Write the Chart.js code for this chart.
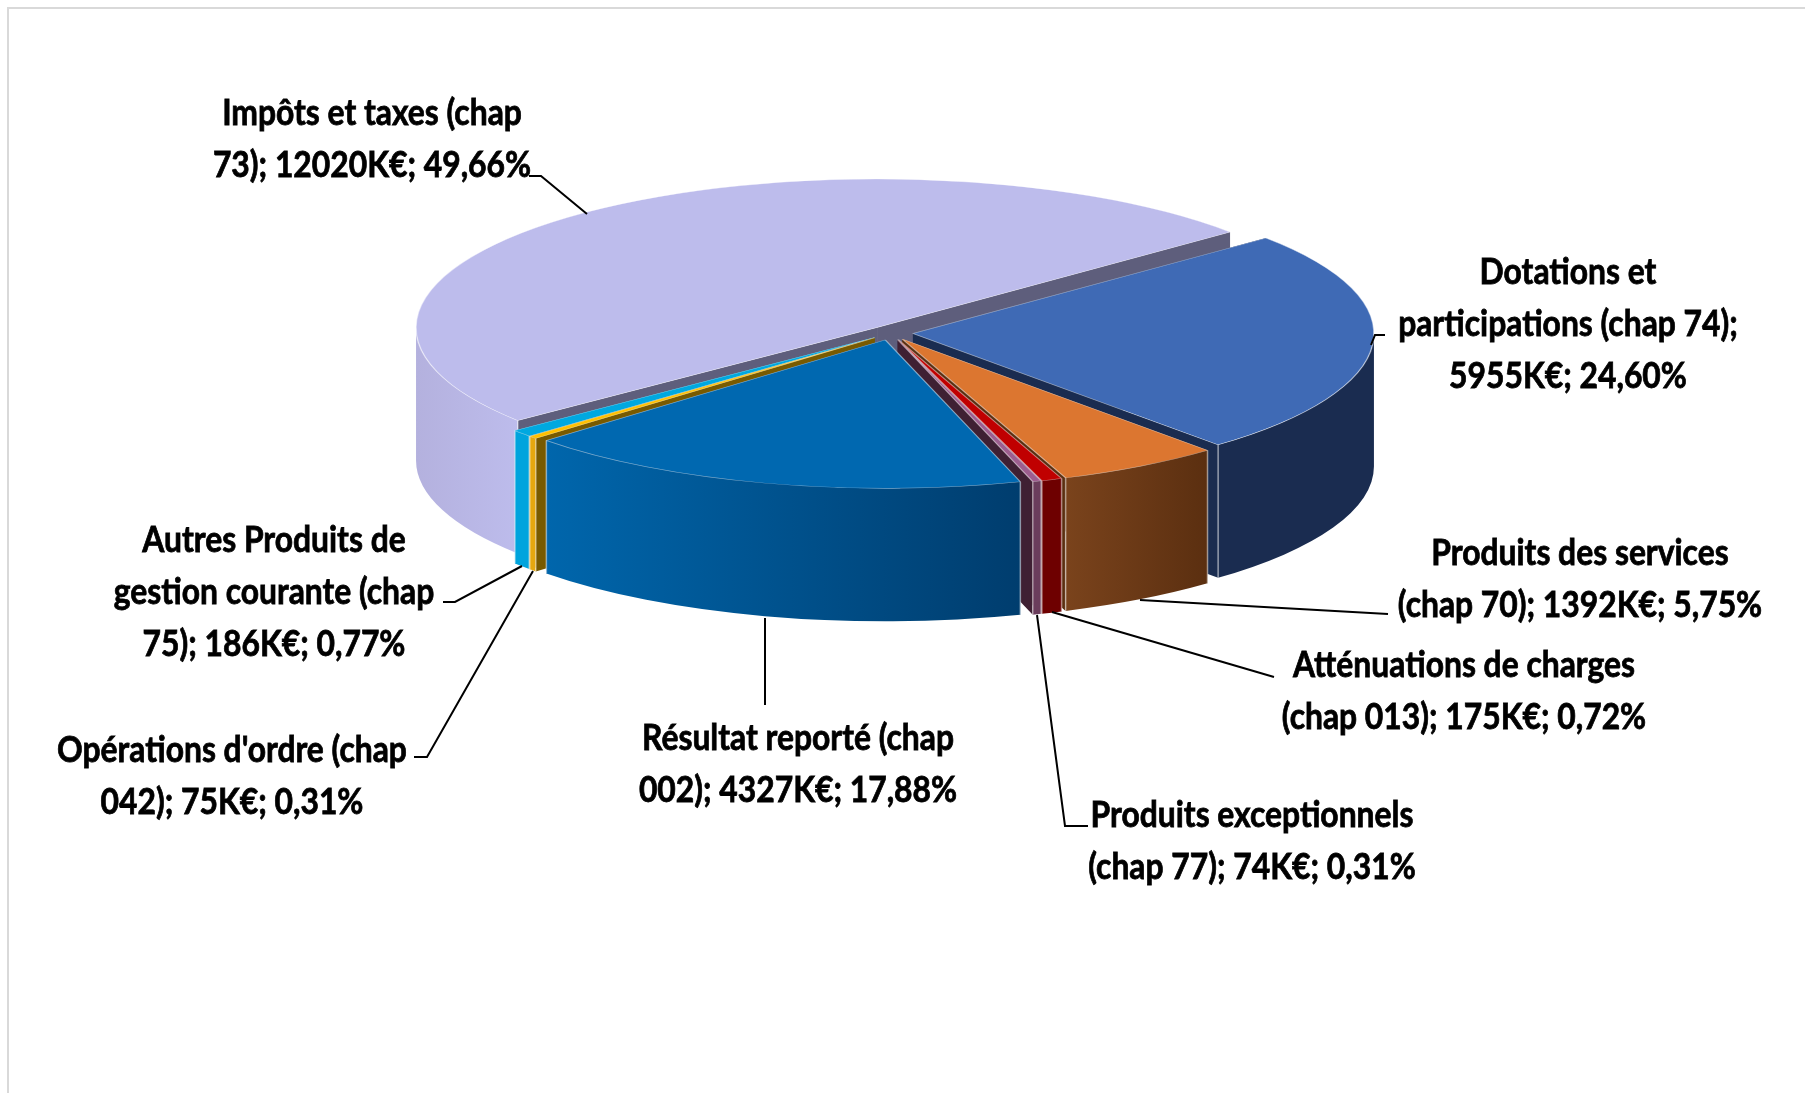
<!DOCTYPE html>
<html lang="fr">
<head>
<meta charset="utf-8">
<title>Recettes</title>
<script src="https://cdn.jsdelivr.net/npm/chart.js@4/dist/chart.umd.js"></script>
<style>
  html, body { margin: 0; background: #fff; }
  canvas { display: block; }
</style>
</head>
<body>
<canvas id="pieChart" width="1805" height="1093"></canvas>
<script>
// Données (K€), dans l'ordre des aiguilles d'une montre
const categories = ['Impôts et taxes', 'Dotations et participations', 'Produits des services',
    'Atténuations de charges', 'Produits exceptionnels', 'Résultat reporté',
    "Opérations d'ordre", 'Autres Produits de gestion courante'];
const values = [12020, 5955, 1392, 175, 74, 4327, 75, 186];
const labelLines = [
    ['Impôts et taxes (chap', '73); 12020K€; 49,66%'],
    ['Dotations et', 'participations (chap 74);', '5955K€; 24,60%'],
    ['Produits des services', '(chap 70); 1392K€; 5,75%'],
    ['Atténuations de charges', '(chap 013); 175K€; 0,72%'],
    ['Produits exceptionnels', '(chap 77); 74K€; 0,31%'],
    ['Résultat reporté (chap', '002); 4327K€; 17,88%'],
    ["Opérations d'ordre (chap", '042); 75K€; 0,31%'],
    ['Autres Produits de', 'gestion courante (chap', '75); 186K€; 0,77%']
];

// Couleurs : dessus, paroi courbe (gauche -> droite), face coupée
const topColors = ['#bdbcec', '#3f6ab5', '#dc7630', '#c00000', '#9d5d8e', '#0068b0', '#ffc000', '#00a8e0'];
const wallFrom = ['#b4b1de', '#1a2c50', '#7a431c', '#6e0000', '#6b3d5c', '#0066ac', '#e5a70f', '#00a4dd'];
const wallTo = ['#bdbcec', '#1a2c50', '#5b2f10', '#6e0000', '#6b3d5c', '#003d6e', '#e5a70f', '#00a4dd'];
const cutColors = ['#5e5e7c', '#1a2c50', '#5b2f10', '#6e0000', '#3f2033', '#003d6e', '#785a00', '#0080b0'];

// Position des textes (centre, première ligne) et traits de rappel
const labelPos = [[372, 113], [1568, 272], [1580, 553], [1464, 665], [1252, 815], [798, 738], [232, 750], [274, 540]];
const leaders = [
    [[529, 176], [541, 176], [587, 214]],
    [[1385, 335], [1375, 335], [1371, 345]],
    [[1388, 614], [1140, 600]],
    [[1274, 677], [1052, 612]],
    [[1088, 826], [1065, 826], [1037, 615]],
    [[765, 705], [765, 618]],
    [[414, 757], [427, 757], [533, 571]],
    [[443, 602], [455, 602], [522, 566]]
];

const squash = 0.322;    // aplatissement de l'ellipse
const depth = 133;       // hauteur du cylindre
const explode = 22;      // éclatement de chaque part
const textSqueeze = 0.86;
const lineHeight = 52;

function wallPath(ctx, el, a0, a1, rx, ry) {
    ctx.beginPath();
    ctx.ellipse(el.x, el.y, rx, ry, 0, a0, a1);
    ctx.lineTo(el.x + rx * Math.cos(a1), el.y + ry * Math.sin(a1) + depth);
    ctx.ellipse(el.x, el.y + depth, rx, ry, 0, a1, a0, true);
    ctx.closePath();
}

function drawCutFace(ctx, el, angle, color) {
    const ex = el.x + el.outerRadius * Math.cos(angle);
    const ey = el.y + el.outerRadius * squash * Math.sin(angle);
    ctx.fillStyle = color;
    ctx.beginPath();
    ctx.moveTo(el.x, el.y);
    ctx.lineTo(ex, ey);
    ctx.lineTo(ex, ey + depth);
    ctx.lineTo(el.x, el.y + depth);
    ctx.closePath();
    ctx.fill();
}

function drawWalls(ctx, el, i) {
    const rx = el.outerRadius, ry = rx * squash;
    const TAU = Math.PI * 2;
    let start = el.startAngle % TAU;
    if (start < 0) start += TAU;
    const end = start + (el.endAngle - el.startAngle);
    drawCutFace(ctx, el, start, cutColors[i]);
    drawCutFace(ctx, el, end, cutColors[i]);
    // parties de l'arc tournées vers le spectateur
    [[0, Math.PI], [TAU, TAU + Math.PI]].forEach(([lo, hi]) => {
        const a0 = Math.max(start, lo), a1 = Math.min(end, hi);
        if (a1 <= a0) return;
        const x0 = el.x + rx * Math.cos(a1), x1 = el.x + rx * Math.cos(a0);
        const grad = ctx.createLinearGradient(Math.min(x0, x1), 0, Math.max(x0, x1), 0);
        grad.addColorStop(0, wallFrom[i]);
        grad.addColorStop(1, wallTo[i]);
        wallPath(ctx, el, a0, a1, rx, ry);
        ctx.fillStyle = grad;
        ctx.fill();
        // arêtes verticales claires
        ctx.strokeStyle = 'rgba(255,255,255,0.5)';
        ctx.lineWidth = 1.5;
        [a0, a1].forEach(a => {
            if (a === 0 || a === Math.PI || a === TAU) return;
            const px = el.x + rx * Math.cos(a), py = el.y + ry * Math.sin(a);
            ctx.beginPath();
            ctx.moveTo(px, py);
            ctx.lineTo(px, py + depth);
            ctx.stroke();
        });
    });
}

// Dessine la tarte en perspective à partir des éléments arc de Chart.js
const pie3d = {
    id: 'pie3d',
    beforeDatasetDraw(chart) {
        const ctx = chart.ctx;
        const arcs = chart.getDatasetMeta(0).data;
        const order = arcs.map((el, i) => i).sort((a, b) => {
            const mid = el => (el.startAngle + el.endAngle) / 2;
            return Math.sin(mid(arcs[a])) - Math.sin(mid(arcs[b]));
        });
        order.forEach(i => {
            const el = arcs[i];
            const mid = (el.startAngle + el.endAngle) / 2;
            const dx = explode * Math.cos(mid);
            const dy = explode * Math.sin(mid) * squash;
            ctx.save();
            ctx.translate(dx, dy);
            drawWalls(ctx, el, i);
            ctx.translate(el.x, el.y);
            ctx.scale(1, squash);
            ctx.translate(-el.x, -el.y);
            el.draw(ctx);
            ctx.restore();
        });
        return false;
    },
    afterDraw(chart) {
        const ctx = chart.ctx;
        ctx.save();
        // cadre gris
        ctx.strokeStyle = '#d9d9d9';
        ctx.lineWidth = 2;
        ctx.beginPath();
        ctx.moveTo(8, 1093);
        ctx.lineTo(8, 8);
        ctx.lineTo(1805, 8);
        ctx.stroke();
        // traits de rappel
        ctx.strokeStyle = '#000';
        ctx.lineWidth = 2;
        leaders.forEach(pts => {
            ctx.beginPath();
            pts.forEach(([x, y], k) => k ? ctx.lineTo(x, y) : ctx.moveTo(x, y));
            ctx.stroke();
        });
        // textes
        ctx.fillStyle = '#000';
        ctx.strokeStyle = '#000';
        ctx.lineWidth = 0.8;
        ctx.font = 'bold 37px Lato';
        ctx.textAlign = 'center';
        ctx.textBaseline = 'middle';
        labelLines.forEach((lines, i) => {
            const [x, y] = labelPos[i];
            lines.forEach((line, k) => {
                ctx.save();
                ctx.translate(x, y + k * lineHeight);
                ctx.scale(textSqueeze, 1);
                ctx.fillText(line, 0, 0);
                ctx.strokeText(line, 0, 0);
                ctx.restore();
            });
        });
        ctx.restore();
    }
};

new Chart(document.getElementById('pieChart'), {
    type: 'pie',
    data: {
        labels: categories,
        datasets: [{
            data: values,
            backgroundColor: topColors,
            borderColor: 'rgba(255,255,255,0.5)',
            borderWidth: 1.5
        }]
    },
    options: {
        responsive: false,
        animation: false,
        rotation: 231.2,
        radius: 461,
        // centre de la zone de tracé en (891, 333)
        layout: { padding: { left: 0, right: 23, top: 0, bottom: 427 } },
        plugins: { legend: { display: false }, tooltip: { enabled: false } }
    },
    plugins: [pie3d]
});
</script>
</body>
</html>
